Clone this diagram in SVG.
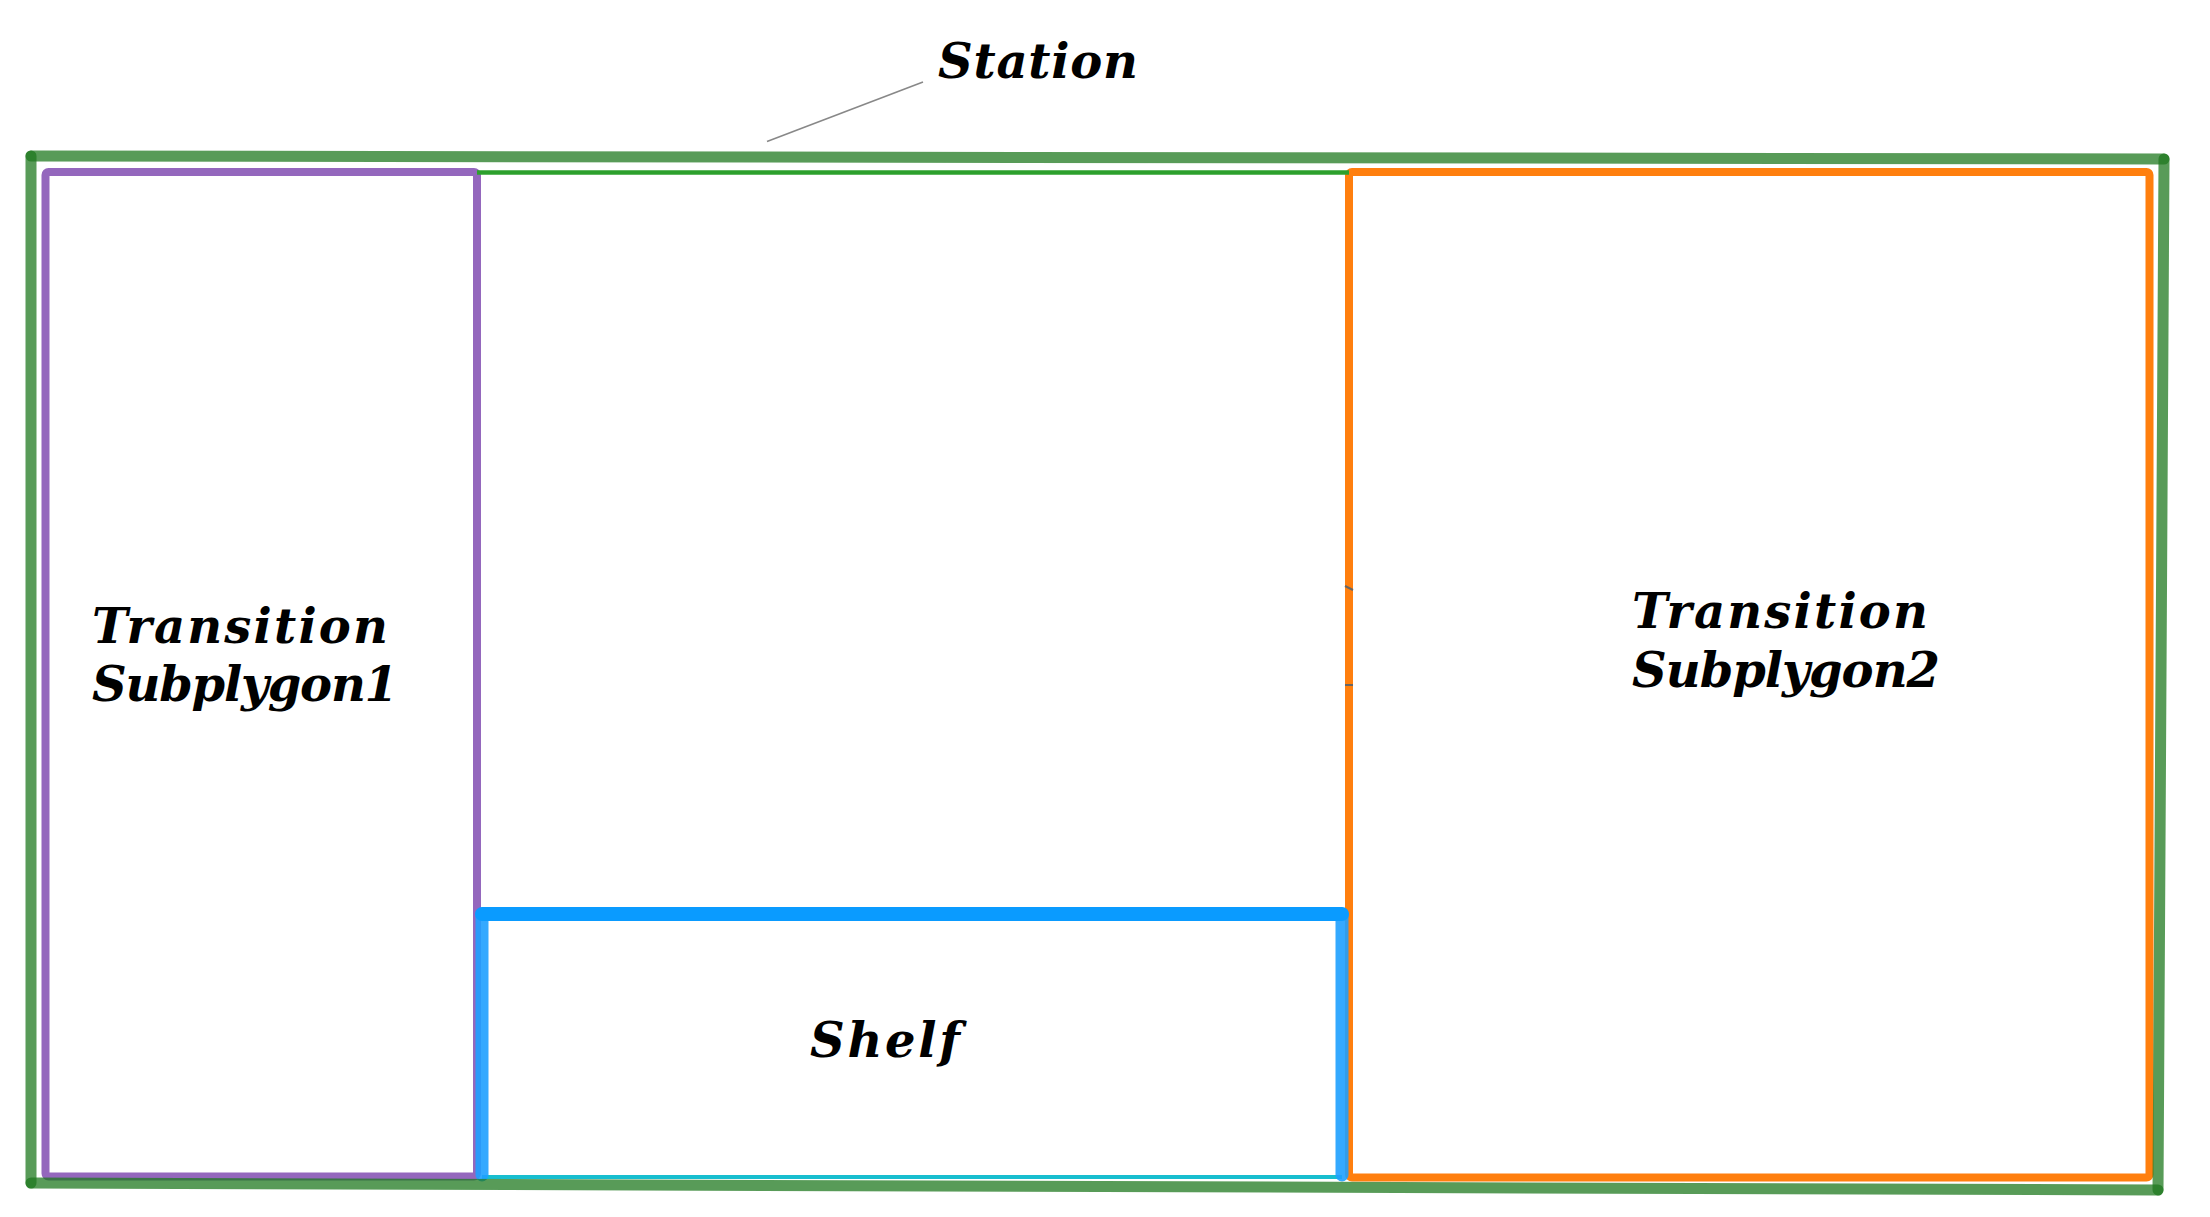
<svg xmlns="http://www.w3.org/2000/svg" width="2210" height="1217" viewBox="0 0 2210 1217">
<style>
.lbl{font-family:"DejaVu Serif","Liberation Serif",serif;font-style:italic;font-weight:bold;font-size:48px;fill:#000}
.stn{stroke:#1e781e;stroke-opacity:0.74;stroke-width:11;stroke-linecap:round;fill:none}
.pur{stroke:#9467bd;stroke-width:8;fill:none;stroke-linejoin:round}
.org{stroke:#ff7f0e;stroke-width:8;fill:none;stroke-linejoin:round}
.blu{stroke:#0a9bff;stroke-width:14;stroke-linecap:round;fill:none}
.bluv{stroke:#1ea0ff;stroke-opacity:0.9;stroke-width:13;stroke-linecap:round;fill:none}
</style>
<rect width="2210" height="1217" fill="#fff"/>
<g id="transition1">
<rect class="pur" x="45.5" y="172" width="431.5" height="1004.5" rx="3"/>
<text class="lbl" x="92" y="643" textLength="296" lengthAdjust="spacing">Transition</text>
<text class="lbl" x="92" y="701" textLength="306" lengthAdjust="spacing">Subplygon1</text>
</g>
<g id="transition2">
<rect class="org" x="1349" y="172" width="800.5" height="1005.5" rx="3"/>
<text class="lbl" x="1632" y="628" textLength="296" lengthAdjust="spacing">Transition</text>
<text class="lbl" x="1632" y="687" textLength="308" lengthAdjust="spacing">Subplygon2</text>
<line x1="1345" y1="586" x2="1353" y2="590" stroke="#666" stroke-width="2"/>
<line x1="1345" y1="685" x2="1353" y2="685" stroke="#666" stroke-width="2"/>
</g>
<g id="shelf">
<line x1="482" y1="1177" x2="1342" y2="1177" stroke="#17becf" stroke-width="4"/>
<line class="bluv" x1="482" y1="914" x2="482" y2="1175"/>
<line class="bluv" x1="1342" y1="914" x2="1342" y2="1175"/>
<line class="blu" x1="482" y1="914" x2="1342" y2="914"/>
<text class="lbl" x="810" y="1057" textLength="150" lengthAdjust="spacing">Shelf</text>
</g>
<g id="station">
<line x1="477" y1="172.5" x2="1349" y2="172.5" stroke="#2ca02c" stroke-width="4.5"/>
<line class="stn" x1="31" y1="156" x2="2164" y2="159"/>
<line class="stn" x1="2164" y1="159" x2="2158" y2="1190"/>
<line class="stn" x1="2158" y1="1190" x2="31" y2="1183"/>
<line class="stn" x1="31" y1="1183" x2="31" y2="156"/>
<text class="lbl" x="938" y="78" textLength="200" lengthAdjust="spacing">Station</text>
</g>
<g id="connectors">
<line x1="923" y1="82" x2="767" y2="141.5" stroke="#888" stroke-width="1.6"/>
</g>
</svg>
